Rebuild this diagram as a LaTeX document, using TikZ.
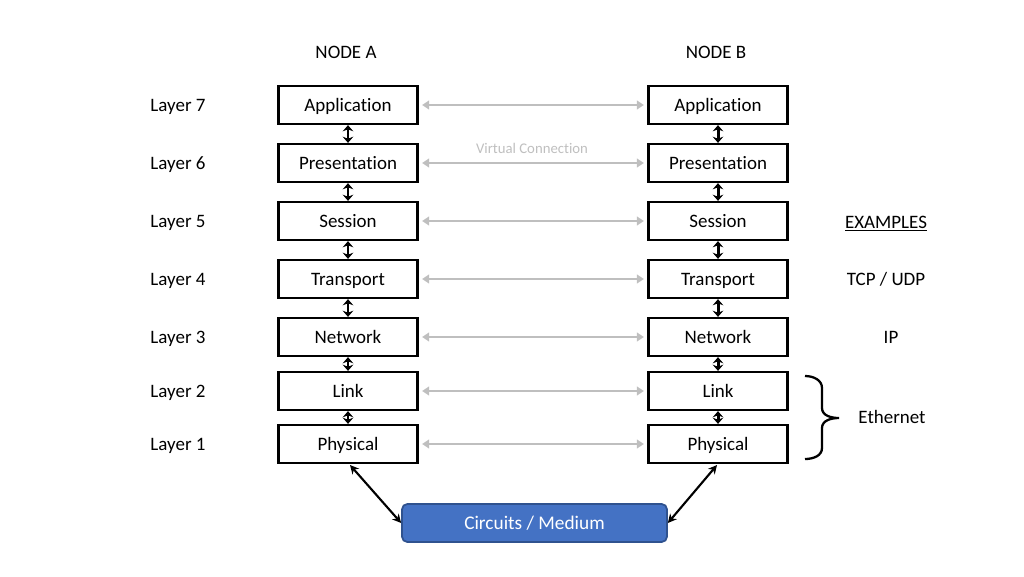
\documentclass[tikz,border=0pt]{standalone}
\usepackage{fontspec}
\setmainfont{Carlito}[Ligatures=NoCommon]
\usetikzlibrary{arrows.meta}

\definecolor{linkgrey}{HTML}{BFBFBF}
\definecolor{mediumblue}{HTML}{4472C4}
\definecolor{mediumedge}{HTML}{2F528F}

\tikzset{
  layerbox/.style={draw=black, line width=1.3pt, minimum width=2.78cm, minimum height=0.76cm, inner sep=0pt, text depth=0pt, font=\fontsize{10.8}{12}\selectfont},
  plain/.style={text depth=0pt, font=\fontsize{10.8}{12}\selectfont},
  stackarrow/.style={{Stealth[length=3.5pt,width=6pt]}-{Stealth[length=3.5pt,width=6pt]}, line width=1.7pt},
  peerarrow/.style={{Triangle[length=4pt,width=5pt]}-{Triangle[length=4pt,width=5pt]}, draw=linkgrey, line width=1.1pt, shorten <=2pt, shorten >=2pt},
  mediumarrow/.style={{Stealth[length=5pt,width=5pt]}-{Stealth[length=5pt,width=5pt]}, line width=1.2pt},
}

\begin{document}
\begin{tikzpicture}[x=0.02cm, y=-0.02cm]
\useasboundingbox (0,0) rectangle (1024,576);
% headings
\node[plain] (headA) at (346,52) {NODE A};
\node[plain] (headB) at (716,52) {NODE B};
% node A stack
\node[layerbox] (a7) at (348,105) {Application};
\node[layerbox] (a6) at (348,163) {Presentation};
\node[layerbox] (a5) at (348,221) {Session};
\node[layerbox] (a4) at (348,279) {Transport};
\node[layerbox] (a3) at (348,337) {Network};
\node[layerbox] (a2) at (348,391) {Link};
\node[layerbox] (a1) at (348,444) {Physical};
% node B stack
\node[layerbox] (b7) at (718,105) {Application};
\node[layerbox] (b6) at (718,163) {Presentation};
\node[layerbox] (b5) at (718,221) {Session};
\node[layerbox] (b4) at (718,279) {Transport};
\node[layerbox] (b3) at (718,337) {Network};
\node[layerbox] (b2) at (718,391) {Link};
\node[layerbox] (b1) at (718,444) {Physical};
% layer labels
\node[plain] (l7) at (178,105) {Layer 7};
\node[plain] (l6) at (178,163) {Layer 6};
\node[plain] (l5) at (178,221) {Layer 5};
\node[plain] (l4) at (178,279) {Layer 4};
\node[plain] (l3) at (178,337) {Layer 3};
\node[plain] (l2) at (178,391) {Layer 2};
\node[plain] (l1) at (178,444) {Layer 1};
% medium
\node[draw=mediumedge, fill=mediumblue, line width=1pt, rounded corners=3pt, minimum width=5.3cm, minimum height=0.76cm, inner sep=0pt, text=white, text depth=0pt, font=\fontsize{11}{12}\selectfont] (medium) at (534.5,523) {Circuits / Medium};
% vertical arrows
\foreach \s in {a,b} {
  \foreach \u/\l in {7/6,6/5,5/4,4/3,3/2,2/1} {
    \draw[stackarrow] (\s\u.south) -- (\s\l.north);
  }
}
% virtual connections
\foreach \n in {1,...,7} {
  \draw[peerarrow] (a\n.east) -- (b\n.west);
}
\node[text=linkgrey, text depth=0pt, font=\fontsize{8.4}{10}\selectfont] (virt) at (532,148) {Virtual Connection};
% to the medium
\coordinate (a1out) at (350,465);
\coordinate (b1out) at (717,465);
\draw[mediumarrow] (a1out) -- (medium.west);
\draw[mediumarrow] (b1out) -- (medium.east);
% examples
\node[plain] (examples) at (886,222) {\underline{EXAMPLES}};
\node[plain] (tcp) at (886,279) {TCP / UDP};
\node[plain] (ip) at (891,337) {IP};
\coordinate (brtop) at (805,376);
\coordinate (brtip) at (839,418);
\coordinate (brbot) at (805,459);
\draw[line width=1.3pt] (brtop) to[out=0,in=90] (822,388) -- (822,408) to[out=-90,in=180] (brtip)
  (brtip) to[out=180,in=90] (822,428) -- (822,448) to[out=-90,in=0] (brbot);
\node[plain] (eth) at (892,417) {Ethernet};
\end{tikzpicture}
\end{document}
